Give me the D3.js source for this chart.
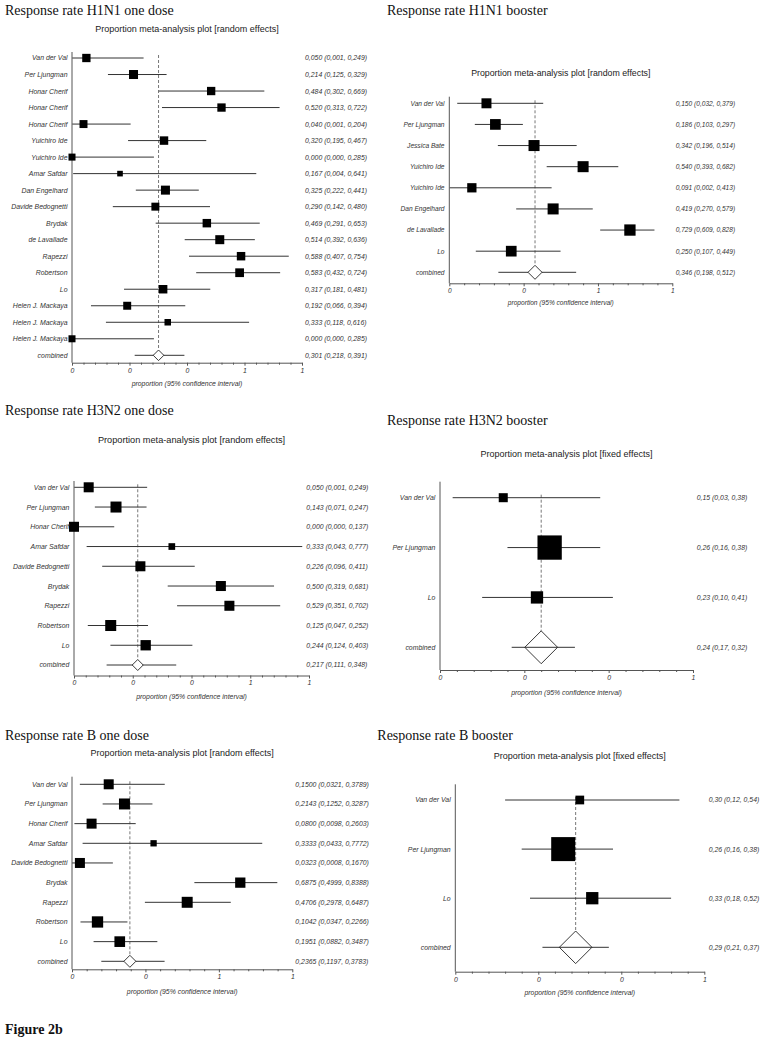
<!DOCTYPE html>
<html><head><meta charset="utf-8">
<script src="https://cdn.jsdelivr.net/npm/d3@7"></script>
<style>body{margin:0;background:#fff} svg{display:block}</style>
</head><body>
<svg id="c" width="763" height="1040"></svg>
<script>
// ---------- DATA ----------
// H1N1 one dose (random effects)
const h1OneStudies = ["Van der Val","Per Ljungman","Honar Cherif","Honar Cherif","Honar Cherif","Yuichiro Ide","Yuichiro Ide","Amar Safdar","Dan Engelhard","Davide Bedognetti","Brydak","de Lavallade","Rapezzi","Robertson","Lo","Helen J. Mackaya","Helen J. Mackaya","Helen J. Mackaya"];
const h1OneEst = [0.050,0.214,0.484,0.520,0.040,0.320,0.000,0.167,0.325,0.290,0.469,0.514,0.588,0.583,0.317,0.192,0.333,0.000];
const h1OneLo  = [0.001,0.125,0.302,0.313,0.001,0.195,0.000,0.004,0.222,0.142,0.291,0.392,0.407,0.432,0.181,0.066,0.118,0.000];
const h1OneHi  = [0.249,0.329,0.669,0.722,0.204,0.467,0.285,0.641,0.441,0.480,0.653,0.636,0.754,0.724,0.481,0.394,0.616,0.285];
const h1OneWeight = [5.9,6.9,5.9,5.9,5.4,6.1,4.2,2.7,6.9,5.4,6.1,6.9,6.1,6.5,6.1,5.4,3.6,4.2];
const h1OneCombined = [0.301,0.218,0.391];
const h1OneTicks = [0,0.2,0.4,0.6,0.8];
const h1OneTickLabels = ["0","0","0","1","1"];

// H1N1 booster (random effects)
const h1BoostStudies = ["Van der Val","Per Ljungman","Jessica Bate","Yuichiro Ide","Yuichiro Ide","Dan Engelhard","de Lavallade","Lo"];
const h1BoostEst = [0.150,0.186,0.342,0.540,0.091,0.419,0.729,0.250];
const h1BoostLo  = [0.032,0.103,0.196,0.393,0.002,0.270,0.609,0.107];
const h1BoostHi  = [0.379,0.297,0.514,0.682,0.413,0.579,0.828,0.449];
const h1BoostWeight = [11.0,12.6,13.4,13.4,9.5,13.4,14.1,12.6];
const h1BoostCombined = [0.346,0.198,0.512];
const h1BoostTicks = [0,0.3,0.6,0.9];
const h1BoostTickLabels = ["0","0","1","1"];

// H3N2 one dose (random effects)
const h3OneStudies = ["Van der Val","Per Ljungman","Honar Cherif","Amar Safdar","Davide Bedognetti","Brydak","Rapezzi","Robertson","Lo"];
const h3OneEst = [0.050,0.143,0.000,0.333,0.226,0.500,0.529,0.125,0.244];
const h3OneLo  = [0.001,0.071,0.000,0.043,0.096,0.319,0.351,0.047,0.124];
const h3OneHi  = [0.249,0.247,0.137,0.777,0.411,0.681,0.702,0.252,0.403];
const h3OneWeight = [11.2,13.5,11.2,5.0,11.2,11.2,11.2,13.5,11.9];
const h3OneCombined = [0.217,0.111,0.348];
const h3OneTicks = [0,0.2,0.4,0.6,0.8];
const h3OneTickLabels = ["0","0","0","1","1"];

// H3N2 booster (fixed effects)
const h3BoostStudies = ["Van der Val","Per Ljungman","Lo"];
const h3BoostEst = [0.15,0.26,0.23];
const h3BoostLo  = [0.03,0.16,0.10];
const h3BoostHi  = [0.38,0.38,0.41];
const h3BoostWeight = [9.9,71.8,18.4];
const h3BoostCombined = [0.24,0.17,0.32];
const h3BoostTicks = [0,0.2,0.4,0.6];
const h3BoostTickLabels = ["0","0","0","1"];

// B one dose (random effects)
const bOneStudies = ["Van der Val","Per Ljungman","Honar Cherif","Amar Safdar","Davide Bedognetti","Brydak","Rapezzi","Robertson","Lo"];
const bOneEst = [0.1500,0.2143,0.0800,0.3333,0.0323,0.6875,0.4706,0.1042,0.1951];
const bOneLo  = [0.0321,0.1252,0.0098,0.0433,0.0008,0.4999,0.2978,0.0347,0.0882];
const bOneHi  = [0.3789,0.3287,0.2603,0.7772,0.1670,0.8388,0.6487,0.2266,0.3487];
const bOneWeight = [10.8,13.0,10.8,4.3,10.8,11.4,13.0,13.8,12.3];
const bOneCombined = [0.2365,0.1197,0.3783];
const bOneTicks = [0,0.3,0.6,0.9];
const bOneTickLabels = ["0","0","1","1"];

// B booster (fixed effects)
const bBoostStudies = ["Van der Val","Per Ljungman","Lo"];
const bBoostEst = [0.30,0.26,0.33];
const bBoostLo  = [0.12,0.16,0.18];
const bBoostHi  = [0.54,0.38,0.52];
const bBoostWeight = [9.5,71.7,18.8];
const bBoostCombined = [0.29,0.21,0.37];
const bBoostTicks = [0,0.2,0.4,0.6];
const bBoostTickLabels = ["0","0","0","1"];

// ---------- PANELS (data + layout) ----------
const panels = [
 {title:"Response rate H1N1 one dose", sub:"Proportion meta-analysis plot [random effects]",
  studies:h1OneStudies, est:h1OneEst, lo:h1OneLo, hi:h1OneHi, w:h1OneWeight, comb:h1OneCombined,
  ticks:h1OneTicks, tickLabels:h1OneTickLabels, dec:3, fixed:false,
  L:{x0:72,x1:302,yTop:58,yComb:355.3,axisY:362.7,vTop:52,labelX:67.5,valueX:305,titleX:5,titleY:15,subY:32,axTitleY:385.5,maxSide:9,dia:5.3,fs:6.9,subFs:9}},
 {title:"Response rate H1N1 booster", sub:"Proportion meta-analysis plot [random effects]",
  studies:h1BoostStudies, est:h1BoostEst, lo:h1BoostLo, hi:h1BoostHi, w:h1BoostWeight, comb:h1BoostCombined,
  ticks:h1BoostTicks, tickLabels:h1BoostTickLabels, dec:3, fixed:false,
  L:{x0:449.3,x1:672.3,yTop:103.3,yComb:272.3,axisY:283.3,vTop:96.7,labelX:444.5,valueX:675.7,titleX:387,titleY:15,subY:76,axTitleY:305,maxSide:11.3,dia:7,fs:6.6,subFs:8.8}},
 {title:"Response rate H3N2 one dose", sub:"Proportion meta-analysis plot [random effects]",
  studies:h3OneStudies, est:h3OneEst, lo:h3OneLo, hi:h3OneHi, w:h3OneWeight, comb:h3OneCombined,
  ticks:h3OneTicks, tickLabels:h3OneTickLabels, dec:3, fixed:false,
  L:{x0:74,x1:309,yTop:487.3,yComb:665,axisY:675.5,vTop:481,labelX:69.3,valueX:306.3,titleX:5,titleY:415,subY:442.5,axTitleY:698.5,maxSide:11,dia:5.5,fs:6.9,subFs:9.2}},
 {title:"Response rate H3N2 booster", sub:"Proportion meta-analysis plot [fixed effects]",
  studies:h3BoostStudies, est:h3BoostEst, lo:h3BoostLo, hi:h3BoostHi, w:h3BoostWeight, comb:h3BoostCombined,
  ticks:h3BoostTicks, tickLabels:h3BoostTickLabels, dec:2, fixed:true,
  L:{x0:440,x1:693,yTop:497.7,yComb:647.3,axisY:670,vTop:481.7,labelX:435.3,valueX:696.7,titleX:387,titleY:425,subY:456.5,axTitleY:694.5,maxSide:24.3,dia:16.4,fs:6.9,subFs:9}},
 {title:"Response rate B one dose", sub:"Proportion meta-analysis plot [random effects]",
  studies:bOneStudies, est:bOneEst, lo:bOneLo, hi:bOneHi, w:bOneWeight, comb:bOneCombined,
  ticks:bOneTicks, tickLabels:bOneTickLabels, dec:4, fixed:false,
  L:{x0:72,x1:292.3,yTop:784.3,yComb:961.3,axisY:969.3,vTop:776.7,labelX:67.5,valueX:295.3,titleX:5,titleY:740,subY:756,axTitleY:994,maxSide:11.3,dia:6,fs:6.9,subFs:9}},
 {title:"Response rate B booster", sub:"Proportion meta-analysis plot [fixed effects]",
  studies:bBoostStudies, est:bBoostEst, lo:bBoostLo, hi:bBoostHi, w:bBoostWeight, comb:bBoostCombined,
  ticks:bBoostTicks, tickLabels:bBoostTickLabels, dec:2, fixed:true,
  L:{x0:455.3,x1:704.3,yTop:800,yComb:947.3,axisY:971.7,vTop:784.3,labelX:450.7,valueX:708.7,titleX:377.3,titleY:740,subY:759,axTitleY:995,maxSide:24,dia:16.3,fs:6.9,subFs:9}}
];

// ---------- DRAW ----------
const svg = d3.select("#c");
const SANS = "'Liberation Sans', Arial, sans-serif";
const SERIF = "'Liberation Serif', 'Times New Roman', serif";
const TXT = "#333";

panels.forEach(p => {
  const L = p.L;
  const g = svg.append("g");
  const n = p.studies.length;
  const x = d3.scaleLinear().domain([0, p.ticks[p.ticks.length-1]]).range([L.x0, L.x1]);
  const y = d3.scalePoint().domain(d3.range(n+1)).range([L.yTop, L.yComb]);
  const side = d3.scaleSqrt().domain([0, d3.max(p.w)]).range([0, L.maxSide]);
  const f = v => d3.format(`.${p.dec}f`)(v).replace(".", ",");

  // titles
  g.append("text").attr("x", L.titleX).attr("y", L.titleY)
    .style("font-family", SERIF).style("font-size", "14px").attr("fill", "#111").text(p.title);
  g.append("text").attr("x", (L.x0+L.x1)/2).attr("y", L.subY).attr("text-anchor","middle")
    .style("font-family", SANS).style("font-size", L.subFs+"px").attr("fill", "#222").text(p.sub);

  // vertical axis line
  g.append("line").attr("x1", L.x0).attr("x2", L.x0).attr("y1", L.vTop).attr("y2", L.axisY)
    .attr("stroke", "#555").attr("stroke-width", 1);

  // reference dashed line at combined estimate
  g.append("line").attr("x1", x(p.comb[0])).attr("x2", x(p.comb[0]))
    .attr("y1", L.yTop - 3).attr("y2", L.yComb - L.dia)
    .attr("stroke", "#555").attr("stroke-width", 0.8).attr("stroke-dasharray", "3,2");

  // study CI lines
  const idx = d3.range(n);
  g.selectAll(".ci").data(idx).join("line")
    .attr("x1", i => x(p.lo[i])).attr("x2", i => x(p.hi[i]))
    .attr("y1", i => y(i)).attr("y2", i => y(i))
    .attr("stroke", "#333").attr("stroke-width", 1);
  // squares
  g.selectAll(".sq").data(idx).join("rect")
    .attr("x", i => x(p.est[i]) - side(p.w[i])/2)
    .attr("y", i => y(i) - side(p.w[i])/2)
    .attr("width", i => side(p.w[i])).attr("height", i => side(p.w[i]))
    .attr("fill", "#000");

  // combined
  const cy = y(n);
  g.append("line").attr("x1", x(p.comb[1])).attr("x2", x(p.comb[2]))
    .attr("y1", cy).attr("y2", cy).attr("stroke", "#333").attr("stroke-width", 1);
  const cx = x(p.comb[0]), d = L.dia;
  g.append("path").attr("d", `M${cx},${cy-d}L${cx+d},${cy}L${cx},${cy+d}L${cx-d},${cy}Z`)
    .attr("fill", p.fixed ? "none" : "#fff").attr("stroke", "#222").attr("stroke-width", 0.9);

  // row labels
  const labels = p.studies.concat(["combined"]);
  g.selectAll(".lab").data(labels).join("text")
    .attr("x", L.labelX).attr("y", (dd, i) => y(i) + L.fs*0.36)
    .attr("text-anchor", "end").style("font-family", SANS).style("font-style", "italic")
    .style("font-size", L.fs+"px").attr("fill", TXT).text(dd => dd);

  // value texts
  const vals = idx.map(i => `${f(p.est[i])} (${f(p.lo[i])}, ${f(p.hi[i])})`)
    .concat([`${f(p.comb[0])} (${f(p.comb[1])}, ${f(p.comb[2])})`]);
  g.selectAll(".val").data(vals).join("text")
    .attr("x", L.valueX).attr("y", (dd, i) => y(i) + L.fs*0.36)
    .style("font-family", SANS).style("font-style", "italic")
    .style("font-size", L.fs+"px").attr("fill", TXT).text(dd => dd);

  // x axis: major + minor ticks
  const minor = [];
  for (let k = 0; k < p.ticks.length-1; k++) {
    const a = p.ticks[k], b = p.ticks[k+1];
    for (let m = 1; m < 5; m++) minor.push(a + (b-a)*m/5);
  }
  const ax = g.append("g").attr("transform", `translate(0,${L.axisY})`)
    .call(d3.axisBottom(x).tickValues(p.ticks).tickFormat((dd, i) => p.tickLabels[i])
      .tickSize(3).tickSizeOuter(0).tickPadding(2));
  ax.select(".domain").attr("stroke", "#555");
  ax.selectAll(".tick line").attr("stroke", "#555");
  ax.selectAll(".tick text").style("font-family", SANS).style("font-style", "italic")
    .style("font-size", L.fs+"px").attr("fill", TXT);
  const mx = g.append("g").attr("transform", `translate(0,${L.axisY})`)
    .call(d3.axisBottom(x).tickValues(minor).tickFormat("").tickSize(2).tickSizeOuter(0));
  mx.select(".domain").remove();
  mx.selectAll(".tick line").attr("stroke", "#555");

  g.append("text").attr("x", (L.x0+L.x1)/2).attr("y", L.axTitleY).attr("text-anchor", "middle")
    .style("font-family", SANS).style("font-style", "italic").style("font-size", L.fs+"px")
    .attr("fill", TXT).text("proportion (95% confidence interval)");
});

svg.append("text").attr("x", 5).attr("y", 1034)
  .style("font-family", SERIF).style("font-weight", "bold").style("font-size", "14px")
  .attr("fill", "#111").text("Figure 2b");
</script>
</body></html>
